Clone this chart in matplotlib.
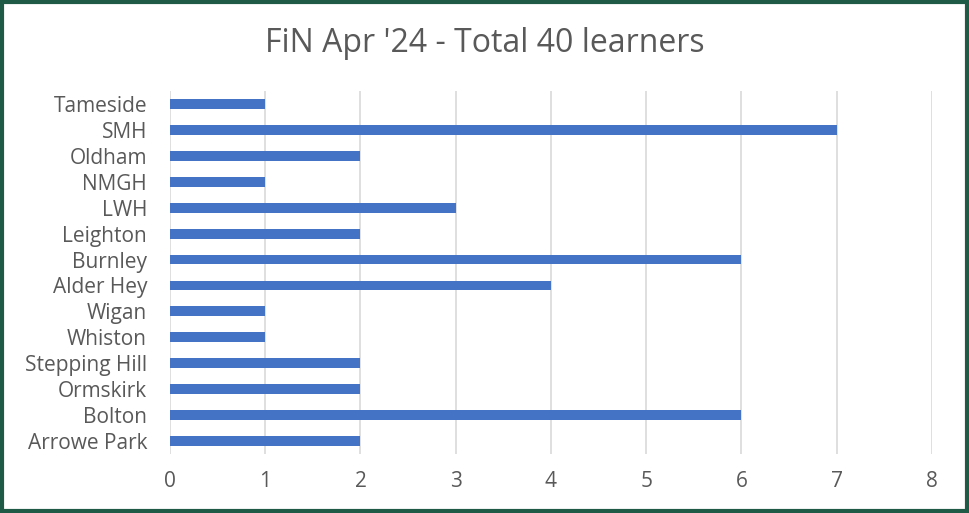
import matplotlib.pyplot as plt
from matplotlib.patches import Rectangle

# Data (top to bottom as in the chart)
sites = ['Tameside', 'SMH', 'Oldham', 'NMGH', 'LWH', 'Leighton', 'Burnley',
         'Alder Hey', 'Wigan', 'Whiston', 'Stepping Hill', 'Ormskirk', 'Bolton',
         'Arrowe Park']
learners = [1, 7, 2, 1, 3, 2, 6, 4, 1, 1, 2, 2, 6, 2]
x_ticks = [0, 1, 2, 3, 4, 5, 6, 7, 8]

title = "FiN Apr '24 - Total 40 learners"

plt.rcParams['font.family'] = ['Open Sans', 'DejaVu Sans']
text_col = '#595959'

fig = plt.figure(figsize=(9.69, 5.13), dpi=100)
ax = fig.add_axes([0.1754, 0.115, 0.7864, 0.7076])

ypos = list(range(len(sites)))[::-1]
ax.barh(ypos, learners, height=0.38, color='#4472C4', zorder=3)

ax.set_xlim(0, 8)
ax.set_ylim(-0.5, len(sites) - 0.5)
ax.set_xticks(x_ticks)
ax.set_yticks(ypos)
ax.set_yticklabels(sites)
ax.tick_params(axis='both', length=0, colors=text_col, labelsize=15)
ax.tick_params(axis='y', pad=16.5)
ax.tick_params(axis='x', pad=12)
ax.grid(axis='x', color='#d9d9d9', linewidth=1.2, zorder=0)
for s in ax.spines.values():
    s.set_visible(False)

fig.text(0.5, 0.915, title, ha='center', va='center', fontsize=23, color=text_col)

# green frame round the chart
fig.patches.append(Rectangle((0.002, 0.004), 0.996, 0.992, transform=fig.transFigure,
                             fill=False, edgecolor='#1e5a46', linewidth=3))

fig.savefig('out.png', dpi=100)
